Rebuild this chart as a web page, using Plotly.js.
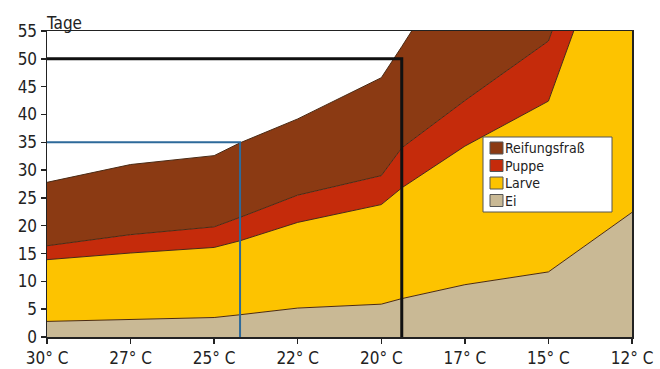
<!DOCTYPE html>
<html>
<head>
<meta charset="utf-8">
<script src="https://cdn.plot.ly/plotly-3.0.1.min.js"></script>
<style>
  html, body { margin: 0; padding: 0; background: #fff; }
  #chart { width: 660px; height: 369px; }
</style>
</head>
<body>
<div id="chart"></div>
<script>
// Temperature categories (tick labels), evenly spaced on the axis
const temps = ["30° C", "27° C", "25° C", "22° C", "20° C", "17° C", "15° C", "12° C"];
// Position along temperature axis (category index; 2.31 and 4.245 are the marked temperatures)
const xIdx = [0, 1, 2, 2.31, 3, 4, 4.245, 5, 6, 7];

// Duration of each development phase (days)
const ei            = [2.8, 3.1, 3.5, 4.0, 5.2, 5.9, 6.9, 9.4, 11.7, 22.4];
const larve         = [11.1, 12.0, 12.6, 13.3, 15.4, 17.9, 19.9, 24.9, 30.7, 61.6];
const puppe         = [2.5, 3.3, 3.7, 4.2, 4.9, 5.2, 7.2, 8.2, 10.8, 11.0];
const reifungsfrass = [11.4, 12.6, 12.8, 13.4, 13.7, 17.6, 18.2, 27.5, 26.8, 15.0];

const phaseNames = ["Ei", "Larve", "Puppe", "Reifungsfraß"];
const phaseColors = ["#c9b995", "#fdc300", "#c52b0b", "#8b3a13"];
const phaseData = [ei, larve, puppe, reifungsfrass];

// Marked thresholds: total days and the corresponding temperature position
const markDays = [35, 50];
const markX = [2.31, 4.245];

const FONT = "'Liberation Sans Narrow', 'Arial Narrow', 'DejaVu Sans Condensed', sans-serif";
const edge = "#4a2a14";

const traces = phaseData.map((y, i) => ({
  x: xIdx, y: y, name: phaseNames[i], type: "scatter", mode: "lines",
  stackgroup: "one", fillcolor: phaseColors[i],
  line: { color: edge, width: 1, shape: "linear" },
  hoverinfo: "skip", showlegend: false
}));

traces.push({
  x: [0, markX[0], markX[0]], y: [markDays[0], markDays[0], 0],
  type: "scatter", mode: "lines", showlegend: false, hoverinfo: "skip",
  line: { color: "#2e6a9a", width: 2 }
});
traces.push({
  x: [0, markX[1], markX[1]], y: [markDays[1], markDays[1], 0],
  type: "scatter", mode: "lines", showlegend: false, hoverinfo: "skip",
  line: { color: "#111111", width: 3 }
});

// Custom legend (box + small squares + labels), top-to-bottom: Reifungsfraß, Puppe, Larve, Ei
const plotL = 47, plotR = 632, plotT = 31, plotB = 337;
const px = v => (v - plotL) / (plotR - plotL);
const py = v => (plotB - v) / (plotB - plotT);
const shapes = [{
  type: "rect", xref: "paper", yref: "paper",
  x0: px(483), x1: px(612), y0: py(212), y1: py(137),
  fillcolor: "#ffffff", line: { color: "#555", width: 1 }, layer: "above"
}];
const annotations = [{
  text: "Tage", xref: "paper", yref: "paper", x: 0, y: 1,
  xanchor: "left", yanchor: "bottom", showarrow: false, xshift: -3, yshift: -4,
  font: { family: FONT, size: 17, color: "#222" }
}];
const order = [3, 2, 1, 0];
order.forEach((k, row) => {
  const cy = 148 + row * 17.5;
  shapes.push({
    type: "rect", xref: "paper", yref: "paper",
    x0: px(490), x1: px(503), y0: py(cy + 6), y1: py(cy - 6),
    fillcolor: phaseColors[k], line: { color: "#555", width: 1 }, layer: "above"
  });
  annotations.push({
    text: phaseNames[k], xref: "paper", yref: "paper",
    x: px(504), y: py(cy), xanchor: "left", yanchor: "middle", showarrow: false,
    height: 16, valign: "middle", borderpad: 0,
    font: { family: FONT, size: 14, color: "#222" }
  });
});

const layout = {
  width: 660, height: 369,
  margin: { l: 47, r: 28, t: 31, b: 32 },
  paper_bgcolor: "#ffffff", plot_bgcolor: "#ffffff",
  font: { family: FONT, color: "#222", size: 17 },
  showlegend: false,
  xaxis: {
    range: [0, 7], tickvals: [0, 1, 2, 3, 4, 5, 6, 7], ticktext: temps,
    showgrid: false, zeroline: false,
    showline: true, linecolor: "#222", linewidth: 1.5, mirror: true,
    ticks: "outside", ticklen: 5, tickcolor: "#222", tickwidth: 1.5,
    tickfont: { family: FONT, size: 17, color: "#222" }
  },
  yaxis: {
    range: [0, 55], dtick: 5, tick0: 0,
    showgrid: false, zeroline: false,
    showline: true, linecolor: "#222", linewidth: 1.5, mirror: true,
    ticks: "outside", ticklen: 5, tickcolor: "#222", tickwidth: 1.5,
    tickfont: { family: FONT, size: 17, color: "#222" }
  },
  shapes: shapes,
  annotations: annotations
};

Plotly.newPlot("chart", traces, layout, { displayModeBar: false, staticPlot: true });
</script>
</body>
</html>
